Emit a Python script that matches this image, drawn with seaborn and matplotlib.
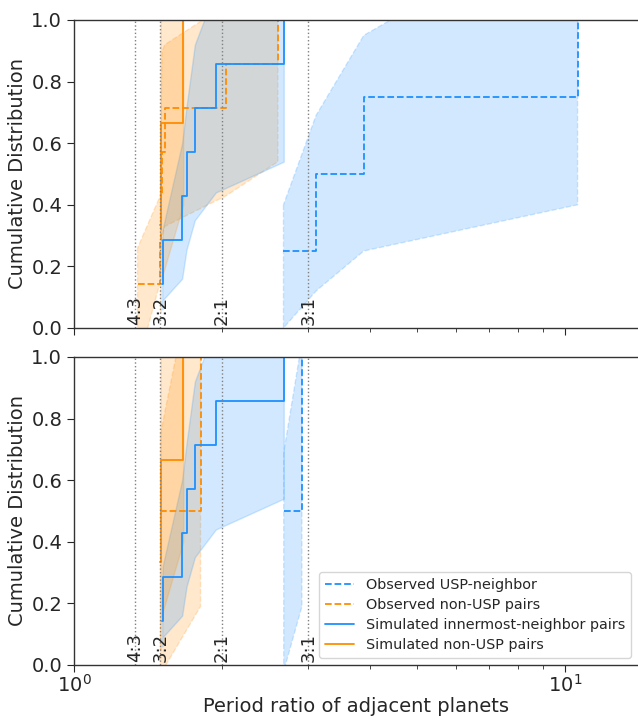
import matplotlib
matplotlib.use("Agg")
import matplotlib.pyplot as plt
import seaborn as sns
import numpy as np

# resonance markers
ratio_values = [4/3, 3/2, 2.0, 3.0]
ratio_labels = ["4:3", "3:2", "2:1", "3:1"]

# ---- top panel: observed USP-neighbor ----
top_obs_usp_x = [2.67, 3.11, 3.89, 10.6]
top_obs_usp_cdf = [0.25, 0.50, 0.75, 1.00]
top_obs_usp_lo = [0.00, 0.12, 0.25, 0.40]
top_obs_usp_hi = [0.40, 0.69, 0.95, 1.35]

# ---- top panel: observed non-USP pairs ----
top_obs_non_x = [1.347, 1.499, 1.502, 1.512, 1.531, 2.044, 2.602]
top_obs_non_cdf = [0.143, 0.286, 0.429, 0.571, 0.714, 0.857, 1.000]
top_obs_non_lo = [-0.12, 0.15, 0.22, 0.30, 0.33, 0.43, 0.54]
top_obs_non_hi = [0.26, 0.43, 0.65, 0.90, 0.92, 1.05, 1.20]

# ---- simulated innermost-neighbor pairs (both panels) ----
sim_in_x = [1.512, 1.515, 1.660, 1.695, 1.762, 1.944, 2.673]
sim_in_cdf = [0.143, 0.286, 0.429, 0.571, 0.714, 0.857, 1.000]
sim_in_lo = [0.06, 0.09, 0.16, 0.255, 0.35, 0.44, 0.54]
sim_in_hi = [0.25, 0.32, 0.60, 0.72, 0.92, 1.10, 1.20]

# ---- simulated non-USP pairs (both panels) ----
sim_non_x = [1.500, 1.501, 1.668]
sim_non_cdf = [0.333, 0.667, 1.000]
sim_non_lo = [0.05, 0.15, 0.40]
sim_non_hi = [1.10, 1.20, 1.30]

# ---- bottom panel: observed ----
bot_obs_usp_x = [2.673, 2.911]
bot_obs_usp_cdf = [0.50, 1.00]
bot_obs_usp_lo = [-0.02, 0.19]
bot_obs_usp_hi = [0.69, 1.05]

bot_obs_non_x = [1.500, 1.810]
bot_obs_non_cdf = [0.50, 1.00]
bot_obs_non_lo = [-0.03, 0.19]
bot_obs_non_hi = [0.75, 1.40]

BLUE = "#1E90FF"
ORANGE = "#FF8C00"

sns.set_style("white")
plt.rcParams["font.family"] = ["DejaVu Sans"]

fig = plt.figure(figsize=(6.38, 7.2), dpi=100)
left = 74 / 638
ax1 = fig.add_axes([left, 1 - 328 / 720, 1 - left, 308 / 720])
ax2 = fig.add_axes([left, 1 - 665 / 720, 1 - left, 308 / 720], sharex=ax1)


def step(ax, x, y, color, ls, label=None):
    sns.lineplot(x=x, y=y, ax=ax, color=color, linestyle=ls, lw=1.3,
                 drawstyle="steps-post", estimator=None, sort=False,
                 label=label, legend=False)


def band(ax, x, lo, hi, color, ls="-"):
    ax.fill_between(x, lo, hi, color=color, alpha=0.2, linestyle=ls, lw=1)


panels = [
    (ax1, (top_obs_usp_x, top_obs_usp_cdf, top_obs_usp_lo, top_obs_usp_hi),
     (top_obs_non_x, top_obs_non_cdf, top_obs_non_lo, top_obs_non_hi)),
    (ax2, (bot_obs_usp_x, bot_obs_usp_cdf, bot_obs_usp_lo, bot_obs_usp_hi),
     (bot_obs_non_x, bot_obs_non_cdf, bot_obs_non_lo, bot_obs_non_hi)),
]

for i, (ax, usp, non) in enumerate(panels):
    lab = (i == 1)
    step(ax, usp[0], usp[1], BLUE, "--", "Observed USP-neighbor" if lab else None)
    band(ax, usp[0], usp[2], usp[3], BLUE, "--")
    step(ax, non[0], non[1], ORANGE, "--", "Observed non-USP pairs" if lab else None)
    band(ax, non[0], non[2], non[3], ORANGE, "--")
    step(ax, sim_in_x, sim_in_cdf, BLUE, "-",
         "Simulated innermost-neighbor pairs" if lab else None)
    band(ax, sim_in_x, sim_in_lo, sim_in_hi, BLUE)
    step(ax, sim_non_x, sim_non_cdf, ORANGE, "-",
         "Simulated non-USP pairs" if lab else None)
    band(ax, sim_non_x, sim_non_lo, sim_non_hi, ORANGE)

    for r, t in zip(ratio_values, ratio_labels):
        ax.axvline(r, color="gray", ls=":", lw=1)
        ax.text(r, 0.01, t, rotation=90, ha="center", va="bottom", fontsize=13)

    ax.set_xscale("log")
    ax.set_xlim(1, 14.07)
    ax.set_ylim(0, 1)
    ax.set_yticks([0, 0.2, 0.4, 0.6, 0.8, 1.0])
    ax.set_ylabel("Cumulative Distribution", fontsize=14, labelpad=3)
    ax.tick_params(axis="both", which="major", labelsize=14, length=5,
                   direction="out", bottom=True, left=True)
    ax.tick_params(axis="x", which="both", pad=1.5)
    ax.tick_params(axis="x", which="minor", length=3, direction="out", bottom=True)
    ax.spines["right"].set_visible(False)
    for s in ["left", "bottom", "top"]:
        ax.spines[s].set_color("#333333")
        ax.spines[s].set_linewidth(1.0)

ax1.tick_params(axis="x", which="both", labelbottom=False)
ax2.set_xlabel("Period ratio of adjacent planets", fontsize=14, labelpad=1)
ax2.legend(loc="lower right", fontsize=10.4, labelspacing=0.42)

fig.savefig("out.png", dpi=100)
